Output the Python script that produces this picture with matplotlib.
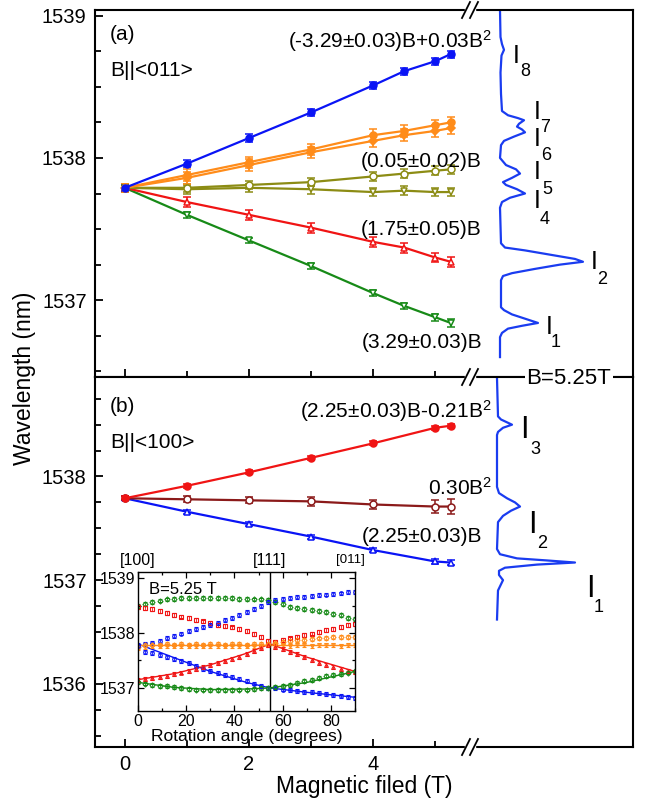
# Zeeman splitting: panel (a) B||<011>, panel (b) B||<100>, spectra at 5.25 T, rotation inset
import matplotlib
matplotlib.use("Agg")
import matplotlib.pyplot as plt
from matplotlib.lines import Line2D
from matplotlib.patches import Rectangle
from matplotlib.ticker import MultipleLocator

plt.rcParams['font.family'] = ['Liberation Sans', 'DejaVu Sans']
plt.rcParams['mathtext.fontset'] = 'custom'
plt.rcParams['mathtext.rm'] = 'Liberation Sans'
plt.rcParams['mathtext.default'] = 'regular'

W, H = 645, 802

# ---- panel (a): B || <011>
B_a = [0, 1, 2, 3, 4, 4.5, 5, 5.25]
wl_a_blue = [1537.79, 1537.96, 1538.14, 1538.32, 1538.51, 1538.61, 1538.68, 1538.73]
wl_a_org1 = [1537.79, 1537.88, 1537.97, 1538.06, 1538.16, 1538.19, 1538.23, 1538.25]
wl_a_org2 = [1537.79, 1537.86, 1537.95, 1538.04, 1538.12, 1538.16, 1538.19, 1538.21]
wl_a_olv1 = [1537.79, 1537.79, 1537.81, 1537.83, 1537.87, 1537.89, 1537.91, 1537.92]
wl_a_olv2 = [1537.79, 1537.78, 1537.79, 1537.78, 1537.76, 1537.77, 1537.76, 1537.76]
wl_a_red = [1537.79, 1537.69, 1537.60, 1537.51, 1537.41, 1537.37, 1537.30, 1537.27]
wl_a_grn = [1537.79, 1537.60, 1537.42, 1537.24, 1537.05, 1536.96, 1536.88, 1536.84]
err_a_blue = [0.02, 0.025, 0.025, 0.025, 0.025, 0.025, 0.025, 0.025]
err_a_org = [0.03, 0.04, 0.04, 0.04, 0.04, 0.04, 0.04, 0.04]
err_a_olv = [0.03, 0.03, 0.03, 0.03, 0.03, 0.03, 0.03, 0.03]
err_a_red = [0.03, 0.035, 0.035, 0.035, 0.035, 0.035, 0.035, 0.035]
err_a_grn = [0.02, 0.02, 0.02, 0.02, 0.02, 0.02, 0.025, 0.025]

# ---- panel (b): B || <100>
B_b = [0, 1, 2, 3, 4, 5, 5.25]
wl_b_red = [1537.79, 1537.91, 1538.04, 1538.18, 1538.32, 1538.47, 1538.49]
wl_b_brn = [1537.79, 1537.78, 1537.77, 1537.76, 1537.73, 1537.71, 1537.71]
wl_b_blu = [1537.79, 1537.66, 1537.54, 1537.42, 1537.29, 1537.18, 1537.17]
err_b_red = [0.02, 0.02, 0.02, 0.02, 0.02, 0.02, 0.02]
err_b_brn = [0.02, 0.03, 0.03, 0.04, 0.04, 0.06, 0.07]
err_b_blu = [0.02, 0.02, 0.02, 0.02, 0.02, 0.02, 0.02]

# ---- PL spectra at B = 5.25 T (wavelength, intensity a.u.)
spec_a_wl = [1539.04, 1538.85, 1538.80, 1538.76, 1538.72, 1538.60, 1538.45, 1538.33, 1538.30,
             1538.28, 1538.265, 1538.24, 1538.22, 1538.20, 1538.18, 1538.15, 1538.12, 1538.09,
             1538.00, 1537.95, 1537.92, 1537.89, 1537.86, 1537.83, 1537.81, 1537.78, 1537.75,
             1537.72, 1537.69, 1537.65, 1537.40, 1537.37, 1537.35, 1537.32, 1537.29, 1537.27,
             1537.25, 1537.22, 1537.19, 1537.17, 1537.14, 1536.95, 1536.93, 1536.90, 1536.87,
             1536.84, 1536.82, 1536.80, 1536.77, 1536.74, 1536.60]
spec_a_int = [0, 0.5, 2, 4, 1.5, 0.5, 1, 2, 8,
              18, 24, 19, 17, 22, 25, 14, 4, 1,
              0, 6, 16, 20, 12, 3, 6, 17, 25,
              10, 2, 0, 1, 5, 25, 50, 75, 83,
              60, 35, 12, 3, 1, 1, 4, 12, 25,
              38, 22, 8, 2, 0, 0]
spec_b_wl = [1538.95, 1538.58, 1538.55, 1538.50, 1538.47, 1538.43, 1538.40, 1537.90, 1537.84,
             1537.79, 1537.75, 1537.71, 1537.67, 1537.62, 1537.56, 1537.30, 1537.25, 1537.21,
             1537.19, 1537.17, 1537.15, 1537.12, 1537.09, 1537.05, 1537.00, 1536.96, 1536.90,
             1536.62]
spec_b_int = [0, 1, 4, 15, 6, 1, 0, 0, 2,
              10, 18, 23, 14, 6, 1, 0, 3, 20,
              50, 78, 40, 8, 2, 2, 6, 4, 1,
              0]

# ---- inset: rotation of B = 5.25 T
ang = [0, 3, 6, 9, 12, 15, 18, 21, 24, 27, 30, 33, 36, 39, 42, 45,
       48, 51, 54, 57, 60, 63, 66, 69, 72, 75, 78, 81, 84, 87, 90]
rot_blue_up = [1537.78, 1537.80, 1537.82, 1537.86, 1537.91, 1537.95, 1537.99, 1538.03, 1538.07, 1538.11,
               1538.14, 1538.18, 1538.23, 1538.28, 1538.33, 1538.38, 1538.43, 1538.49, 1538.56, 1538.60,
               1538.62, 1538.64, 1538.65, 1538.66, 1538.68, 1538.69, 1538.70, 1538.71, 1538.72, 1538.74, 1538.75]
rot_grn_up = [1538.49, 1538.52, 1538.56, 1538.59, 1538.61, 1538.62, 1538.63, 1538.64, 1538.64, 1538.64,
              1538.64, 1538.64, 1538.63, 1538.63, 1538.62, 1538.62, 1538.61, 1538.61, 1538.60, 1538.57,
              1538.52, 1538.48, 1538.46, 1538.44, 1538.42, 1538.40, 1538.38, 1538.35, 1538.32, 1538.28, 1538.25]
rot_red_up = [1538.48, 1538.46, 1538.44, 1538.40, 1538.36, 1538.33, 1538.30, 1538.27, 1538.24, 1538.21,
              1538.18, 1538.15, 1538.13, 1538.10, 1538.07, 1538.04, 1537.98, 1537.92, 1537.85, 1537.84,
              1537.87, 1537.90, 1537.93, 1537.96, 1537.99, 1538.02, 1538.05, 1538.08, 1538.11, 1538.14, 1538.16]
rot_org_up = [1537.74, 1537.78, 1537.79, 1537.79, 1537.80, 1537.79, 1537.80, 1537.79, 1537.80, 1537.79,
              1537.80, 1537.80, 1537.79, 1537.80, 1537.80, 1537.79, 1537.80, 1537.80, 1537.80, 1537.81,
              1537.83, 1537.85, 1537.87, 1537.88, 1537.89, 1537.90, 1537.91, 1537.92, 1537.92, 1537.93, 1537.93]
rot_org_lo = [1537.72, 1537.74, 1537.76, 1537.77, 1537.77, 1537.76, 1537.77, 1537.77, 1537.76, 1537.77,
              1537.77, 1537.76, 1537.77, 1537.77, 1537.76, 1537.77, 1537.77, 1537.77, 1537.78, 1537.78,
              1537.78, 1537.77, 1537.78, 1537.78, 1537.77, 1537.78, 1537.78, 1537.78, 1537.77, 1537.78, 1537.78]
rot_blue_lo = [1537.76, 1537.66, 1537.63, 1537.60, 1537.56, 1537.52, 1537.49, 1537.45, 1537.40, 1537.35,
               1537.31, 1537.27, 1537.23, 1537.20, 1537.17, 1537.12, 1537.08, 1537.04, 1537.00, 1536.99,
               1536.97, 1536.96, 1536.94, 1536.93, 1536.92, 1536.91, 1536.89, 1536.87, 1536.85, 1536.83, 1536.82]
rot_red_lo = [1537.15, 1537.16, 1537.18, 1537.20, 1537.22, 1537.25, 1537.28, 1537.31, 1537.35, 1537.38,
              1537.41, 1537.45, 1537.49, 1537.53, 1537.57, 1537.62, 1537.67, 1537.72, 1537.78, 1537.75,
              1537.71, 1537.66, 1537.61, 1537.56, 1537.51, 1537.46, 1537.42, 1537.38, 1537.34, 1537.31, 1537.29]
rot_grn_lo = [1537.10, 1537.08, 1537.06, 1537.04, 1537.03, 1537.01, 1537.00, 1536.98, 1536.97, 1536.97,
              1536.96, 1536.96, 1536.96, 1536.96, 1536.97, 1536.97, 1536.98, 1536.99, 1537.00, 1537.02,
              1537.04, 1537.06, 1537.09, 1537.12, 1537.15, 1537.18, 1537.21, 1537.24, 1537.26, 1537.28, 1537.30]
# fitted curves in the inset
fit_ang = [0, 15, 30, 45, 54.7, 70, 90]
fit_blue = [1537.80, 1537.55, 1537.30, 1537.10, 1537.00, 1536.92, 1536.83]
fit_red = [1537.15, 1537.26, 1537.42, 1537.63, 1537.80, 1537.56, 1537.30]
fit_grn = [1537.10, 1537.01, 1536.97, 1536.98, 1537.00, 1537.10, 1537.30]
fit_org = [1537.78, 1537.78, 1537.78, 1537.78, 1537.78, 1537.78, 1537.78]

c_blue = '#0a14f5'
c_org = '#ff8c1a'
c_olv = '#8c8c14'
c_red = '#f01414'
c_grn = '#178a17'
c_brn = '#8b1a1a'
c_spec = '#1a3cf0'

fig = plt.figure(figsize=(6.45, 8.02), dpi=100)


def box(x0, y0, x1, y1):
    # pixel box -> figure fraction [left, bottom, width, height]
    return [x0 / W, 1 - y1 / H, (x1 - x0) / W, (y1 - y0) / H]


def ftext(x, y, s, **kw):
    fig.text(x / W, 1 - y / H, s, **kw)


ax_a = fig.add_axes(box(95, 10, 470, 377))
ax_as = fig.add_axes(box(470, 10, 633, 377))
ax_b = fig.add_axes(box(95, 377, 470, 747))
ax_bs = fig.add_axes(box(470, 377, 633, 747))

for ax in (ax_a, ax_b, ax_as, ax_bs):
    for sp in ax.spines.values():
        sp.set_linewidth(1.5)

for ax in (ax_a, ax_b):
    ax.set_xlim(-0.48, 5.56)
    ax.spines['right'].set_visible(False)
    ax.xaxis.set_major_locator(MultipleLocator(2))
    ax.xaxis.set_minor_locator(MultipleLocator(1))
    ax.yaxis.set_major_locator(MultipleLocator(1))
    ax.yaxis.set_minor_locator(MultipleLocator(0.25))
    ax.tick_params(which='both', direction='in', top=False, right=False,
                   width=1.3, labelsize=14.5, pad=6)
    ax.tick_params(which='major', length=6)
    ax.tick_params(which='minor', length=4)

ax_a.set_ylim(1536.46, 1539.04)
ax_b.set_ylim(1535.39, 1538.96)
ax_a.tick_params(labelbottom=False)

for ax in (ax_as, ax_bs):
    ax.spines['left'].set_visible(False)
    ax.set_xticks([])
    ax.set_yticks([])

ax_as.set_ylim(ax_a.get_ylim())
ax_bs.set_ylim(ax_b.get_ylim())
ax_as.set_xlim(-30, 133)
ax_bs.set_xlim(-27, 136)


def series(ax, x, y, e, color, marker, filled, ms=5):
    ax.errorbar(x, y, yerr=e, color=color, marker=marker, ms=ms,
                mfc=color if filled else 'white', mec=color, mew=1.1,
                lw=1.6, elinewidth=1.1, capsize=3.2, capthick=1.2)


series(ax_a, B_a, wl_a_grn, err_a_grn, c_grn, 'v', False)
series(ax_a, B_a, wl_a_red, err_a_red, c_red, '^', False)
series(ax_a, B_a, wl_a_olv2, err_a_olv, c_olv, 'v', False)
series(ax_a, B_a, wl_a_olv1, err_a_olv, c_olv, 'o', False)
series(ax_a, B_a, wl_a_org2, err_a_org, c_org, 'D', True, ms=4.5)
series(ax_a, B_a, wl_a_org1, err_a_org, c_org, 'o', True)
series(ax_a, B_a, wl_a_blue, err_a_blue, c_blue, 'o', True)

series(ax_b, B_b, wl_b_blu, err_b_blu, c_blue, '^', False)
series(ax_b, B_b, wl_b_brn, err_b_brn, c_brn, 'o', False)
series(ax_b, B_b, wl_b_red, err_b_red, c_red, 'o', True)

ax_as.plot(spec_a_int, spec_a_wl, color=c_spec, lw=1.6)
ax_bs.plot(spec_b_int, spec_b_wl, color=c_spec, lw=1.6)

# ---- texts
fs = 15
ftext(110, 34, '(a)', fontsize=fs, va='center')
ftext(110, 71, 'B||<011>', fontsize=fs, va='center')
ftext(492, 48, '(-3.29±0.03)B+0.03B$^2$', fontsize=fs, ha='right', va='baseline')
ftext(482, 167, '(0.05±0.02)B', fontsize=fs, ha='right', va='baseline')
ftext(482, 235, '(1.75±0.05)B', fontsize=fs, ha='right', va='baseline')
ftext(482, 348, '(3.29±0.03)B', fontsize=fs, ha='right', va='baseline')

ftext(110, 407, '(b)', fontsize=fs, va='center')
ftext(110, 442, 'B||<100>', fontsize=fs, va='center')
ftext(492, 418, '(2.25±0.03)B-0.21B$^2$', fontsize=fs, ha='right', va='baseline')
ftext(492, 495, '0.30B$^2$', fontsize=fs, ha='right', va='baseline')
ftext(482, 542, '(2.25±0.03)B', fontsize=fs, ha='right', va='baseline')

ftext(569, 378, 'B=5.25T', fontsize=16, ha='center', va='center',
      bbox=dict(facecolor='white', edgecolor='none', pad=1), zorder=10)

# peak labels I_n
peaks_a = [('8', 516, 56, 525, 72), ('7', 537, 112, 545, 128), ('6', 537, 139, 546, 155),
           ('5', 537, 172, 547, 189), ('4', 537, 201, 545, 220), ('2', 594, 262, 602, 279),
           ('1', 549, 327, 556, 343)]
peaks_b = [('3', 524, 430, 535, 450), ('2', 532, 525, 542, 544), ('1', 590, 589, 599, 607)]
for n, x, y, sx, sy in peaks_a:
    ftext(x, y, 'I', fontsize=18, ha='center', va='center')
    ftext(sx, sy, n, fontsize=13, ha='center', va='center')
for n, x, y, sx, sy in peaks_b:
    ftext(x, y, 'I', fontsize=22, ha='center', va='center')
    ftext(sx, sy, n, fontsize=13, ha='center', va='center')

ftext(25, 378, 'Wavelength (nm)', fontsize=16.5, rotation=90, ha='center', va='center')
ftext(364, 786, 'Magnetic filed (T)', fontsize=16.5, ha='center', va='center')


# ---- axis break marks
def brk(x, y):
    fig.add_artist(Rectangle(((x - 5) / W, 1 - (y + 3) / H), 10 / W, 6 / H,
                             transform=fig.transFigure, color='white', zorder=20))
    for dx in (-4, 4):
        fig.add_artist(Line2D([(x + dx - 4) / W, (x + dx + 4) / W],
                              [1 - (y + 8) / H, 1 - (y - 8) / H],
                              transform=fig.transFigure, color='k', lw=1.3, zorder=21))


brk(470, 10)
brk(470, 377)
brk(470, 747)

# ---- inset
ax_in = fig.add_axes(box(138, 572, 355, 711))
ax_in.set_zorder(30)
ax_in.set_xlim(0, 90)
ax_in.set_ylim(1536.58, 1539.11)
ax_in.xaxis.set_major_locator(MultipleLocator(20))
ax_in.xaxis.set_minor_locator(MultipleLocator(10))
ax_in.yaxis.set_major_locator(MultipleLocator(1))
ax_in.yaxis.set_minor_locator(MultipleLocator(0.5))
ax_in.tick_params(which='both', direction='in', top=True, right=True, labelsize=11.5, pad=2, width=0.9)
ax_in.tick_params(which='major', length=4)
ax_in.tick_params(which='minor', length=2.5)
for sp in ax_in.spines.values():
    sp.set_linewidth(1.0)
ax_in.set_xlabel('Rotation angle (degrees)', fontsize=12.5, labelpad=0)

ax_in.plot(fit_ang, fit_blue, color=c_blue, lw=1)
ax_in.plot(fit_ang, fit_red, color=c_red, lw=1)
ax_in.plot(fit_ang, fit_grn, color=c_grn, lw=1)
ax_in.plot(fit_ang, fit_org, color=c_org, lw=1)

for vals, col, mk in [(rot_grn_up, c_grn, 'D'), (rot_red_up, c_red, 's'), (rot_blue_up, c_blue, 'o'),
                      (rot_org_up, c_org, 'D'), (rot_org_lo, c_org, 'v'), (rot_blue_lo, c_blue, 'o'),
                      (rot_red_lo, c_red, '^'), (rot_grn_lo, c_grn, 'D')]:
    ax_in.errorbar(ang, vals, yerr=0.035, fmt=mk, color=col, ms=2.6, mfc='none', mew=0.8,
                   elinewidth=0.6, capsize=1.2, capthick=0.6)

ax_in.axvline(54.7, color='k', lw=1)
ax_in.text(0.05, 0.93, 'B=5.25 T', transform=ax_in.transAxes, fontsize=12, va='top')

ftext(138, 561, '[100]', fontsize=11.5, ha='center', va='center')
ftext(270, 561, '[111]', fontsize=11.5, ha='center', va='center')
ftext(350, 560, '[011]', fontsize=9.5, ha='center', va='center')

fig.savefig('out.png', dpi=100)
